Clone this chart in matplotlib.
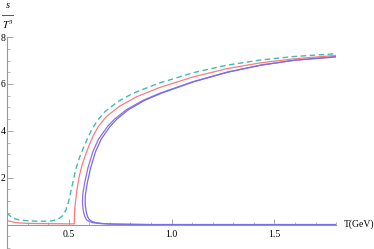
import numpy as np
import matplotlib
matplotlib.use("Agg")
import matplotlib.pyplot as plt
from matplotlib.ticker import MultipleLocator, FixedLocator

plt.rcParams['font.family'] = 'Liberation Serif'
plt.rcParams['mathtext.fontset'] = 'stix'

# s/T^3
T_cyan = [0.2, 0.227, 0.26, 0.292, 0.33, 0.373, 0.41, 0.439, 0.455, 0.471, 0.487, 0.5, 0.512,
          0.524, 0.536, 0.552, 0.568, 0.59, 0.609, 0.64, 0.674, 0.739, 0.812, 0.934, 1.105,
          1.268, 1.43, 1.593, 1.8]
s_cyan = [0.49, 0.27, 0.2, 0.17, 0.15, 0.14, 0.15, 0.2, 0.27, 0.38, 0.63, 1.0, 1.48,
          1.95, 2.4, 2.85, 3.2, 3.65, 4.0, 4.45, 4.8, 5.25, 5.6, 6.02, 6.48,
          6.8, 7.02, 7.17, 7.29]

T_red = [0.2, 0.23, 0.26, 0.3, 0.4, 0.5, 0.527, 0.528, 0.529, 0.532, 0.536, 0.543, 0.552,
         0.567, 0.585, 0.6, 0.617, 0.645, 0.682, 0.747, 0.829, 0.942, 1.105, 1.268, 1.43,
         1.593, 1.8]
s_red = [0.17, 0.11, 0.07, 0.05, 0.04, 0.03, 0.03, 0.3, 0.63, 0.9, 1.2, 1.65, 2.1,
         2.6, 3.05, 3.4, 3.75, 4.2, 4.6, 5.05, 5.45, 5.85, 6.3, 6.65, 6.9,
         7.07, 7.22]

T_blue1 = [1.8, 0.9, 0.8, 0.72, 0.68, 0.645, 0.617, 0.6, 0.587, 0.578, 0.572, 0.568, 0.567,
           0.568, 0.572, 0.578, 0.593, 0.617, 0.645, 0.69, 0.723, 0.78, 0.861, 0.942, 1.0,
           1.105, 1.268, 1.43, 1.593, 1.8]
s_blue1 = [0.0, 0.0, 0.01, 0.02, 0.03, 0.05, 0.08, 0.13, 0.2, 0.35, 0.55, 0.8, 1.0,
           1.25, 1.5, 1.8, 2.4, 3.1, 3.65, 4.2, 4.5, 4.9, 5.3, 5.6, 5.78,
           6.1, 6.5, 6.8, 7.01, 7.18]

T_blue2 = [1.8, 0.9, 0.8, 0.728, 0.69, 0.658, 0.632, 0.615, 0.601, 0.591, 0.585, 0.581, 0.58,
           0.581, 0.585, 0.591, 0.606, 0.63, 0.658, 0.702, 0.734, 0.79, 0.869, 0.949, 1.006,
           1.11, 1.272, 1.433, 1.595, 1.8]
s_blue2 = [0.0, 0.0, 0.01, 0.02, 0.03, 0.05, 0.08, 0.13, 0.2, 0.35, 0.55, 0.8, 1.0,
           1.25, 1.5, 1.8, 2.4, 3.1, 3.65, 4.2, 4.5, 4.9, 5.3, 5.6, 5.78,
           6.1, 6.5, 6.8, 7.01, 7.15]

fig = plt.figure(figsize=(3.74, 2.49), dpi=100)
ax = fig.add_axes([0.0187, 0.004, 0.880, 0.847])

ax.plot(T_blue1, s_blue1, color='#9a6ae0', lw=0.9)
ax.plot(T_blue2, s_blue2, color='#6f6ff0', lw=0.9)
ax.plot(T_red, s_red, color='#ff7a7a', lw=0.9)
ax.plot(T_cyan, s_cyan, color='#3cbcbc', lw=1.0, dashes=(4, 2.5))

ax.set_xlim(0.2, 1.8)
ax.set_ylim(-1, 8)

for side in ['top', 'right']:
    ax.spines[side].set_visible(False)
ax.spines['bottom'].set_position(('data', 0))
for side in ['left', 'bottom']:
    ax.spines[side].set_color('#999999')
    ax.spines[side].set_linewidth(0.8)

ax.xaxis.set_major_locator(FixedLocator([0.5, 1.0, 1.5]))
ax.xaxis.set_minor_locator(MultipleLocator(0.1))
ax.yaxis.set_major_locator(FixedLocator([2, 4, 6, 8]))
ax.yaxis.set_minor_locator(MultipleLocator(0.5))
ax.set_xticklabels(['0.5', '1.0', '1.5'])
ax.tick_params(which='both', direction='in', color='#999999', labelsize=7, pad=2)
ax.tick_params(which='major', length=4, width=0.6)
ax.tick_params(which='minor', length=2.5, width=0.5)
ax.tick_params(axis='x', pad=4)
ax.tick_params(axis='y', pad=1)

fig.text(344 / 374, 1 - 224 / 249, 'T(GeV)', fontsize=7, va='center', ha='left')
fig.text(7.5 / 374, 1 - 6 / 249, 's', fontsize=7.5, style='italic', ha='center', va='center')
fig.add_artist(plt.Line2D([2 / 374, 13 / 374], [1 - 14.7 / 249] * 2, color='#555555', lw=0.7))
fig.text(7.5 / 374, 1 - 25 / 249, r'$T^3$', fontsize=7.5, ha='center', va='center')

fig.savefig('out.png', dpi=100)
